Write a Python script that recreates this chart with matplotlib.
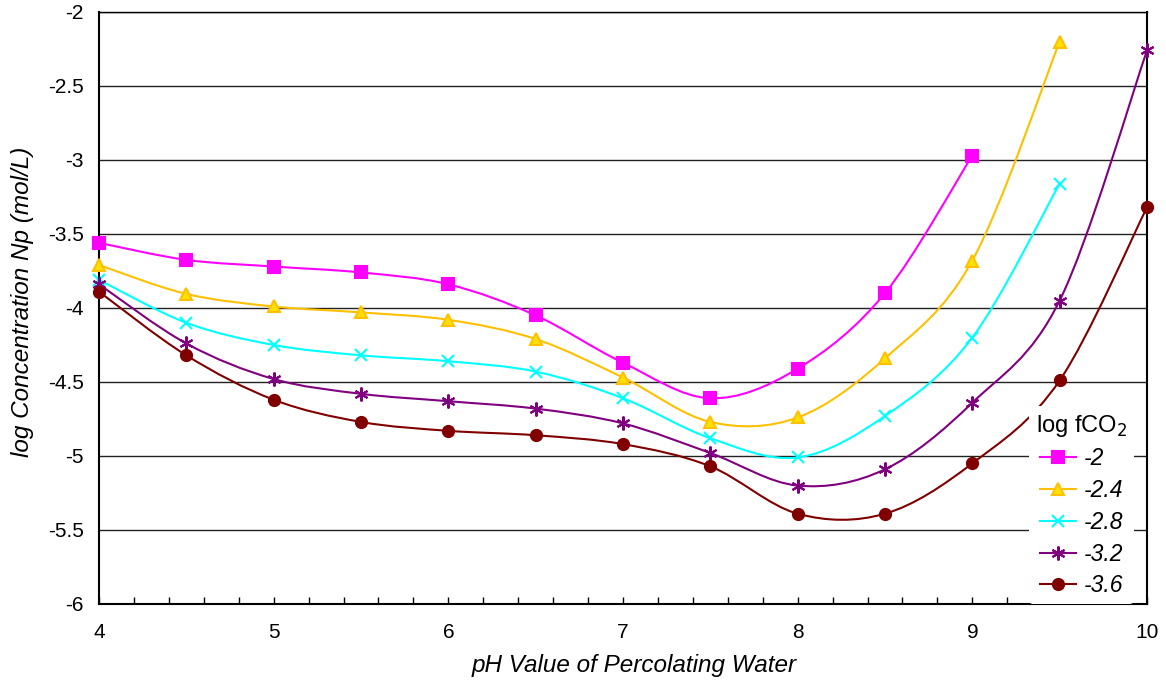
import matplotlib.pyplot as plt
from matplotlib.path import Path
from matplotlib.patches import PathPatch
from matplotlib.lines import Line2D
from matplotlib.ticker import MultipleLocator

plt.rcParams['font.family'] = ['Liberation Sans', 'DejaVu Sans']

ph = [4, 4.5, 5, 5.5, 6, 6.5, 7, 7.5, 8, 8.5, 9, 9.5, 10]

conc_m20 = [-3.56, -3.675, -3.72, -3.76, -3.84, -4.05, -4.37, -4.61, -4.41, -3.90, -2.97]
conc_m24 = [-3.71, -3.905, -3.99, -4.03, -4.08, -4.21, -4.47, -4.77, -4.74, -4.34, -3.68, -2.20]
conc_m28 = [-3.81, -4.10, -4.25, -4.32, -4.36, -4.43, -4.61, -4.88, -5.01, -4.73, -4.20, -3.16]
conc_m32 = [-3.84, -4.24, -4.48, -4.58, -4.63, -4.68, -4.78, -4.98, -5.20, -5.09, -4.64, -3.95, -2.26]
conc_m36 = [-3.89, -4.32, -4.62, -4.77, -4.83, -4.86, -4.92, -5.07, -5.39, -5.39, -5.05, -4.49, -3.32]

labels = ['-2', '-2.4', '-2.8', '-3.2', '-3.6']
series = [conc_m20, conc_m24, conc_m28, conc_m32, conc_m36]
colors = ['#FF00FF', '#FFC000', '#00FFFF', '#800080', '#800000']
faces = ['#FF00FF', '#FFE000', '#00FFFF', '#800080', '#800000']
markers = ['s', '^', 'x', (6, 2, 0), 'o']
msizes = [8, 8, 9, 10, 8]


def smooth_path(xs, ys):
    # Excel-style smoothed line: cubic Bezier through the points
    pts = list(zip(xs, ys))
    verts = [pts[0]]
    codes = [Path.MOVETO]
    n = len(pts)
    for i in range(n - 1):
        p0 = pts[i - 1] if i > 0 else pts[i]
        p1 = pts[i]
        p2 = pts[i + 1]
        p3 = pts[i + 2] if i + 2 < n else pts[i + 1]
        c1 = (p1[0] + (p2[0] - p0[0]) / 6, p1[1] + (p2[1] - p0[1]) / 6)
        c2 = (p2[0] - (p3[0] - p1[0]) / 6, p2[1] - (p3[1] - p1[1]) / 6)
        verts += [c1, c2, p2]
        codes += [Path.CURVE4] * 3
    return Path(verts, codes)


fig = plt.figure(figsize=(11.66, 6.8), dpi=100)
ax = fig.add_axes([0.0849, 0.1118, 0.8988, 0.8706])

for ys, lab, c, fc, m, ms in zip(series, labels, colors, faces, markers, msizes):
    xs = ph[:len(ys)]
    ax.add_patch(PathPatch(smooth_path(xs, ys), facecolor='none', edgecolor=c,
                           lw=1.5, zorder=3, clip_on=False))
    ax.plot(xs, ys, ls='none', marker=m, ms=ms, color=c, markerfacecolor=fc,
            markeredgecolor=c, mew=1.5, zorder=4, clip_on=False)

ax.set_xlim(4, 10)
ax.set_ylim(-6, -2)
ax.xaxis.set_major_locator(MultipleLocator(1))
ax.xaxis.set_minor_locator(MultipleLocator(0.2))
ax.yaxis.set_major_locator(MultipleLocator(0.5))
ax.yaxis.grid(True, color='#222222', lw=1)
ax.set_axisbelow(True)
ax.tick_params(axis='x', which='both', direction='in', length=5, width=1,
               labelsize=15, pad=14)
ax.tick_params(axis='y', length=0, labelsize=15, pad=11)
ax.set_yticklabels([f'{v:g}' for v in ax.get_yticks()])
for s in ['left', 'bottom', 'right']:
    ax.spines[s].set_linewidth(1.5)
ax.spines['top'].set_linewidth(1)

ax.set_xlabel('pH Value of Percolating Water', fontstyle='italic', fontsize=17.5, labelpad=6)
ax.xaxis.set_label_coords(0.511, -0.085)
ax.set_ylabel('log Concentration Np (mol/L)', fontstyle='italic', fontsize=17.5, labelpad=6)
ax.yaxis.set_label_coords(-0.062, 0.51)

handles = [Line2D([], [], color=c, marker=m, ms=ms, markerfacecolor=fc,
                  markeredgecolor=c, mew=1.5, lw=1.5)
           for c, fc, m, ms in zip(colors, faces, markers, msizes)]
leg = ax.legend(handles, labels, title='log fCO$_2$', loc='lower right',
                bbox_to_anchor=(0.994, -0.012), frameon=True, framealpha=1,
                edgecolor='white', fontsize=16.5, title_fontsize=17,
                handlelength=1.6, handletextpad=0.3, labelspacing=0.38,
                borderpad=0.3, borderaxespad=0.3)
for t in leg.get_texts():
    t.set_fontstyle('italic')
leg.get_frame().set_linewidth(0)

fig.savefig('out.png', dpi=100)
